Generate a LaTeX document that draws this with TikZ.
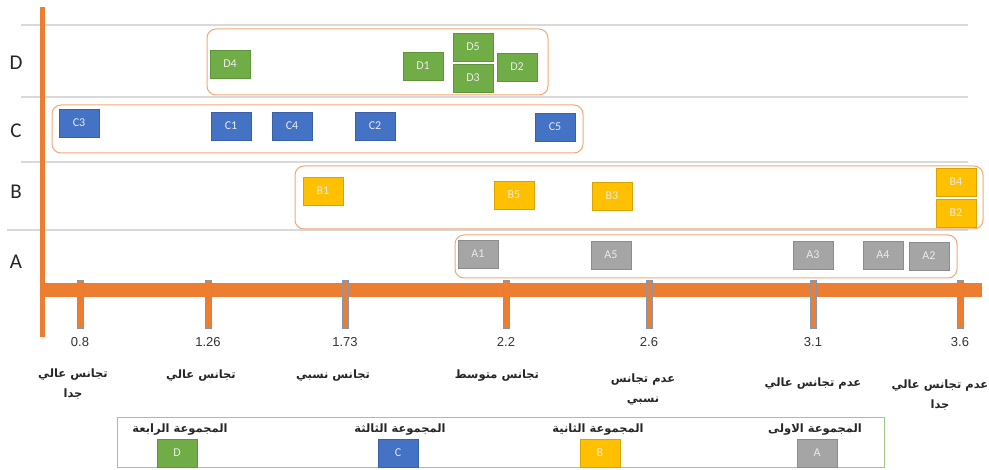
\documentclass[tikz,border=0pt]{standalone}
\usepackage{fontspec}
\setmainfont{Carlito}
\newfontfamily\arabicfont[Script=Arabic]{DejaVu Sans}
\newfontfamily\numfont{Liberation Sans}
\TeXXeTstate=1
\definecolor{cgreen}{HTML}{70AD47}
\definecolor{cblue}{HTML}{4472C4}
\definecolor{cgold}{HTML}{FFC000}
\definecolor{cgray}{HTML}{A5A5A5}
\definecolor{corange}{HTML}{ED7D31}
\definecolor{cline}{HTML}{D9D9D9}
\definecolor{cboxline}{HTML}{F4B183}
\definecolor{ctickline}{HTML}{8497B0}
\definecolor{clegend}{HTML}{A9D18E}
\tikzset{
  item/.style={minimum width=40pt, minimum height=28pt, inner sep=0pt, text=white!92!black, font=\fontsize{12}{12}\selectfont, draw=#1!85!black, line width=0.4pt, fill=#1},
  grpbox/.style={draw=cboxline!80!corange, line width=1pt, rounded corners=9pt},
  rowlab/.style={font=\fontsize{21}{21}\selectfont, text=black!85},
  ticklab/.style={font=\numfont\fontsize{13}{13}\selectfont, text=black!80},
  arlab/.style={font=\arabicfont\bfseries\fontsize{11.5}{20}\selectfont, align=center, text=black!85},
  tickmark/.style={fill=corange, draw=ctickline, line width=0.5pt}
}
\begin{document}
\begin{tikzpicture}[x=1pt,y=-1pt]
\useasboundingbox (0,0) rectangle (989,470);
% grid lines
\draw[cline, line width=1.2pt] (21,25) -- (968,25);
\draw[cline, line width=1.2pt] (21,97) -- (968,97);
\draw[cline, line width=1.2pt] (21,162) -- (968,162);
\draw[cline, line width=1.2pt] (7,230) -- (968,230);
% row labels
\node[rowlab] (labD) at (16,63) {D};
\node[rowlab] (labC) at (16,131) {C};
\node[rowlab] (labB) at (16,192) {B};
\node[rowlab] (labA) at (16,262) {A};
% axes
\fill[corange] (40,7) rectangle (45,337);
\fill[corange] (45,283) rectangle (982,297);
% ticks
\foreach \x/\v/\n in {80/0.8/t1, 208/1.26/t2, 345/1.73/t3, 506/2.2/t4, 649/2.6/t5, 813/3.1/t6, 960/3.6/t7}{
  \draw[tickmark] (\x-3,280) rectangle (\x+3,328);
  \node[ticklab] (\n) at (\x,342) {\v};
}
% arabic labels
\node[arlab] (ar1) at (73,384) {\beginR تجانس عالي\endR\\\beginR جدا\endR};
\node[arlab] (ar2) at (201,376) {\beginR تجانس عالي\endR};
\node[arlab] (ar3) at (333,376) {\beginR تجانس نسبي\endR};
\node[arlab] (ar4) at (497,376) {\beginR تجانس متوسط\endR};
\node[arlab] (ar5) at (643,390) {\beginR عدم تجانس\endR\\\beginR نسبي\endR};
\node[arlab] (ar6) at (813,384) {\beginR عدم تجانس عالي\endR};
\node[arlab] (ar7) at (940,395) {\beginR عدم تجانس عالي\endR\\\beginR جدا\endR};
% group boxes
\draw[grpbox] (207,29) rectangle (548,95);
\draw[grpbox] (52,105) rectangle (583,153);
\draw[grpbox] (295,166) rectangle (983,229);
\draw[grpbox] (455,235) rectangle (957,278);
% D items
\node[item=cgreen] (D4) at (230,64) {D4};
\node[item=cgreen] (D1) at (423,66) {D1};
\node[item=cgreen] (D5) at (473,47) {D5};
\node[item=cgreen] (D3) at (473,78) {D3};
\node[item=cgreen] (D2) at (517,67) {D2};
% C items
\node[item=cblue] (C3) at (79,123) {C3};
\node[item=cblue] (C1) at (231,126) {C1};
\node[item=cblue] (C4) at (292,126) {C4};
\node[item=cblue] (C2) at (375,126) {C2};
\node[item=cblue] (C5) at (555,127) {C5};
% B items
\node[item=cgold] (B1) at (323,191) {B1};
\node[item=cgold] (B5) at (514,195) {B5};
\node[item=cgold] (B3) at (612,196) {B3};
\node[item=cgold] (B4) at (956,182) {B4};
\node[item=cgold] (B2) at (956,213) {B2};
% A items
\node[item=cgray] (A1) at (478,254) {A1};
\node[item=cgray] (A5) at (611,255) {A5};
\node[item=cgray] (A3) at (813,255) {A3};
\node[item=cgray] (A4) at (883,255) {A4};
\node[item=cgray] (A2) at (929,256) {A2};
% legend
\draw[clegend!80!cgreen, line width=1pt] (117,418) rectangle (884,468);
\node[arlab] (lgD) at (180,430) {\beginR المجموعة الرابعة\endR};
\node[arlab] (lgC) at (400,430) {\beginR المجموعة الثالثة\endR};
\node[arlab] (lgB) at (598,430) {\beginR المجموعة الثانية\endR};
\node[arlab] (lgA) at (815,430) {\beginR المجموعة الاولى\endR};
\node[item=cgreen] (kD) at (177,453) {D};
\node[item=cblue] (kC) at (398,453) {C};
\node[item=cgold] (kB) at (600,453) {B};
\node[item=cgray] (kA) at (817,453) {A};
\end{tikzpicture}
\end{document}
